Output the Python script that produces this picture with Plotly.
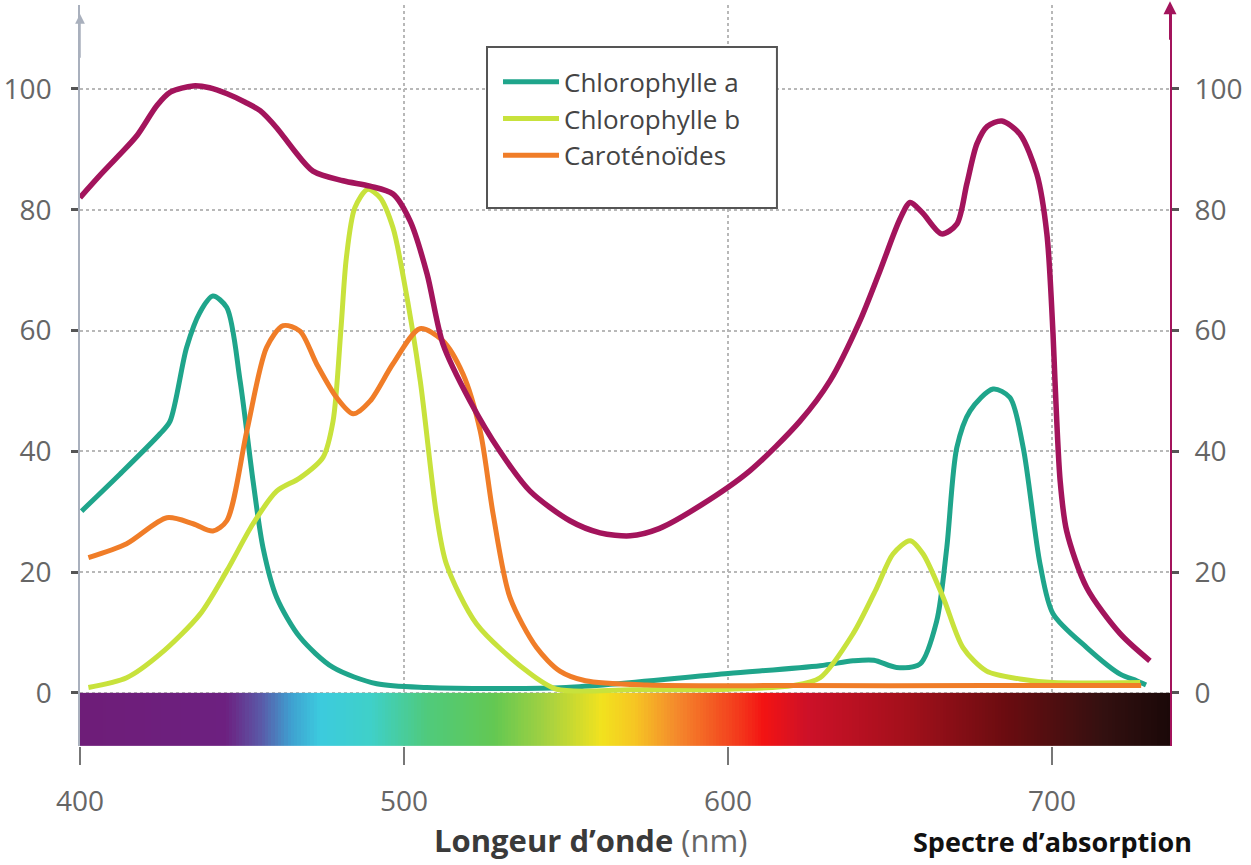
import numpy as np
import plotly.graph_objects as go

# ---------------- data ----------------
wl_action = [400, 406, 412, 417.6, 423.8, 428, 434.9, 440, 445.4, 451, 455.6, 460.8, 465.7, 471.9,
             481.2, 489.5, 496.6, 501.9, 507.1, 512, 520.4, 529.6, 538.9, 551.2, 560.5, 569.8,
             578.7, 591.4, 606.8, 622.2, 631.5, 640.7, 646.9, 653.1, 656.2, 660, 665.9, 670.6,
             673.7, 676.8, 680, 684.5, 690.1, 695.3, 698.4, 700.3, 700.9, 702.5, 704.5, 710.7,
             721, 730.2]
val_action = [82, 85.6, 89, 92.3, 97.3, 99.5, 100.5, 100.2, 99.2, 97.8, 96.4, 93.5, 90.1, 86.4,
              84.8, 83.9, 82.6, 78.1, 69.4, 57.8, 48.3, 40, 33.4, 28.5, 26.5, 26,
              27.2, 31, 36.8, 45, 51.7, 61.6, 69.9, 78.5, 81.2, 79.5, 76, 77.6,
              84.3, 90.9, 93.8, 94.7, 92.5, 85.9, 76, 59.4, 51.7, 35.1, 26.8, 17.4,
              9.8, 5.3]

wl_chla = [400.5, 412.3, 424.7, 427.8, 432.9, 437, 441, 445.3, 449.4, 453.4, 456.5, 460.7, 467.9,
           478.1, 491.6, 507, 550, 600, 628.4, 638.6, 645, 652, 659.3, 664.4, 667.5, 670.6,
           674.7, 681.8, 687, 691.1, 696.3, 700.3, 710.7, 721, 726.1, 729]
val_chla = [30.1, 36.2, 42.9, 45, 57.2, 63, 65.7, 63.8, 51.7, 35.1, 24, 15.8, 9.2,
            4.2, 1.5, 0.9, 0.9, 3.2, 4.5, 5.3, 5.4, 4.2, 4.8, 11.9, 24, 40.6,
            46.7, 50.3, 48.9, 40.6, 21.3, 13.1, 7.5, 3.1, 2, 1.3]

wl_chlb = [402.6, 414.4, 424.7, 437, 445.3, 453.4, 460.7, 467.9, 475, 478.1, 480.5, 482.2,
           484.8, 488.8, 492.6, 496.6, 499.8, 505, 510, 513.1, 522.4, 537.9, 547.1, 570, 600, 620,
           628.4, 638.6, 645.9, 650.9, 656.2, 660.2, 666.4, 672.5, 679.8, 690.1, 700.3, 727.2]
val_chlb = [0.9, 2.5, 6.4, 13, 20.2, 28, 33.4, 35.6, 39, 45, 60, 72,
            80.3, 83.4, 82, 77, 68.8, 51.7, 29.6, 21.3, 11.4, 3.6, 0.6, 0.5, 0.6, 1.2,
            2.5, 9.8, 17.4, 23, 25.2, 23, 15.8, 7.5, 3.6, 2.3, 1.7, 1.7]

wl_car = [402.6, 414.4, 426.8, 434.9, 441, 445.3, 451.5, 457.6, 462.7, 467.9, 473, 479.2, 484.3,
          489.5, 496.6, 504.9, 512, 518.2, 523.5, 527.5, 532.7, 540.9, 548.1, 556, 575, 620,
          680, 727.5]
val_car = [22.4, 24.7, 29, 28, 26.8, 28.5, 43.4, 57.2, 60.8, 59.9, 54.5, 48.9, 46.2,
           48.3, 54.5, 60.3, 58.3, 52.8, 43.4, 29.6, 15.8, 7.5, 3.6, 2, 1.3, 1.2,
           1.2, 1.2]

y_ticks = [0, 20, 40, 60, 80, 100]
x_ticks = [400, 500, 600, 700]
series_names = ["Chlorophylle a", "Chlorophylle b", "Caroténoïdes"]

# visible-spectrum colour band (wavelength stops and colours)
band_stops_nm = [400, 445, 456, 465, 474, 490, 507, 528, 545, 561, 571, 584, 603, 611, 625, 655, 686, 716, 736.4]
band_colors = ["#6e1d78", "#6d2080", "#5a5aa8", "#3f9fd0", "#3ccbde", "#3fd0c8", "#4fca7c", "#63c852",
               "#a9d23f", "#f2e21e", "#f6c623", "#f48a2c", "#f33a1c", "#f31313", "#cc1128", "#a3101b",
               "#6a0c10", "#331010", "#1a0808"]

# ---------------- styling ----------------
C_PURPLE = "#a3145c"
C_TEAL = "#1fa58b"
C_LIME = "#c8e23c"
C_ORANGE = "#f07d28"
X_MIN, X_MAX = 400, 736.4
Y_MIN, Y_MAX = -8.8, 113.9
FONT = "Open Sans, Liberation Sans, sans-serif"

fig = go.Figure()

# spectrum band as a heatmap
lo, hi = band_stops_nm[0], band_stops_nm[-1]
edges = np.linspace(lo, hi, 337)
centers = (edges[:-1] + edges[1:]) / 2
cscale = [[(s - lo) / (hi - lo), c] for s, c in zip(band_stops_nm, band_colors)]
fig.add_trace(go.Heatmap(x=edges, y=[Y_MIN, 0], z=[centers], colorscale=cscale,
                         zmin=lo, zmax=hi, showscale=False, hoverinfo="skip"))

# action spectrum (right axis, no legend)
fig.add_trace(go.Scatter(x=wl_action, y=val_action, mode="lines", yaxis="y2",
                         line=dict(color=C_PURPLE, width=5.5, shape="spline", smoothing=0.8),
                         showlegend=False))
fig.add_trace(go.Scatter(x=wl_chla, y=val_chla, mode="lines", name=series_names[0],
                         line=dict(color=C_TEAL, width=5, shape="spline", smoothing=0.8)))
fig.add_trace(go.Scatter(x=wl_chlb, y=val_chlb, mode="lines", name=series_names[1],
                         line=dict(color=C_LIME, width=5, shape="spline", smoothing=0.8)))
fig.add_trace(go.Scatter(x=wl_car, y=val_car, mode="lines", name=series_names[2],
                         line=dict(color=C_ORANGE, width=5, shape="spline", smoothing=0.8)))

fig.update_layout(
    width=1251, height=865,
    margin=dict(l=80, r=81, t=5, b=119),
    paper_bgcolor="white", plot_bgcolor="white",
    font=dict(family=FONT, color="#555"),
    xaxis=dict(range=[X_MIN, X_MAX], tickvals=x_ticks, ticks="outside", ticklen=18,
               tickwidth=2, tickcolor="#777", showline=False, zeroline=False, automargin=False,
               showgrid=True, gridcolor="#b8b8b8", griddash="dot", gridwidth=1.5,
               tickfont=dict(size=28, color="#666", family=FONT), ticklabelstandoff=12),
    yaxis=dict(range=[Y_MIN, Y_MAX], tickvals=y_ticks, ticks="outside", ticklen=7, automargin=False,
               tickwidth=2.5, tickcolor="#555", showline=True, linecolor="#a9b0bd", linewidth=1.5,
               zeroline=False, showgrid=True, gridcolor="#b8b8b8", griddash="dot", gridwidth=1.5,
               tickfont=dict(size=28, color="#666", family=FONT), ticklabelstandoff=14),
    yaxis2=dict(range=[Y_MIN, Y_MAX], tickvals=y_ticks, overlaying="y", side="right", automargin=False,
                ticks="outside", ticklen=7, tickwidth=2.5, tickcolor="#555",
                showline=True, linecolor=C_PURPLE, linewidth=2, zeroline=False, showgrid=False,
                tickfont=dict(size=28, color="#666", family=FONT), ticklabelstandoff=10),
    legend=dict(x=0.3835, y=0.928, xanchor="left", yanchor="top", traceorder="normal",
                bgcolor="rgba(0,0,0,0)", borderwidth=0,
                font=dict(size=26, color="#444", family=FONT), itemwidth=56),
    showlegend=True,
)

# legend frame (white box with dark border)
fig.add_shape(type="rect", xref="paper", yref="paper", x0=0.3734, x1=0.6394, y0=0.726, y1=0.9433,
              fillcolor="white", line=dict(color="#555", width=2), layer="above")

# axis arrowheads
fig.add_annotation(x=X_MIN, y=Y_MAX - 1.5, xref="x", yref="y", ax=X_MIN, ay=Y_MAX - 9,
                   axref="x", ayref="y", showarrow=True, arrowhead=2, arrowsize=1.3,
                   arrowwidth=1.5, arrowcolor="#a9b0bd", text="")
fig.add_annotation(x=1, y=1.005, xref="paper", yref="paper", ax=0, ay=40,
                   showarrow=True, arrowhead=2, arrowsize=1.3, arrowwidth=2,
                   arrowcolor=C_PURPLE, text="")

# axis title and caption
fig.add_annotation(x=0.468, y=-0.127, xref="paper", yref="paper", xanchor="center", yanchor="middle",
                   showarrow=False,
                   text="<b>Longeur d’onde</b> <span style='color:#666'>(nm)</span>",
                   font=dict(size=31, color="#3a3a3a", family=FONT))
fig.add_annotation(x=0.762, y=-0.129, xref="paper", yref="paper", xanchor="left", yanchor="middle",
                   showarrow=False, text="<b>Spectre d’absorption</b>",
                   font=dict(size=27, color="#111", family=FONT))

fig.write_html("out.html", config={"displayModeBar": False},
               post_script="document.body.style.margin='0';document.body.style.overflow='hidden';")
